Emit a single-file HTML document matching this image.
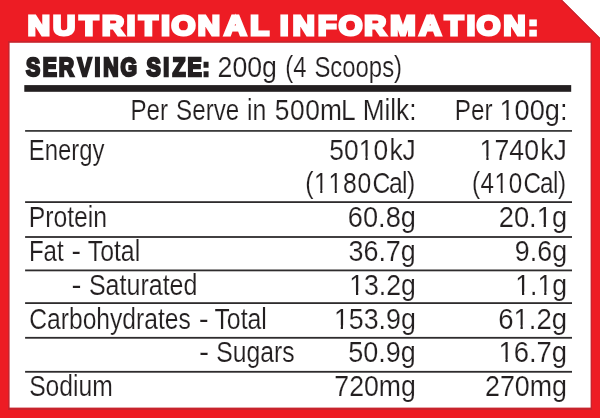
<!DOCTYPE html>
<html lang="en"><head><meta charset="utf-8"><title>Nutritional Information</title><style>
html,body{margin:0;padding:0;background:#fff;}
svg{display:block;will-change:transform;}
text{font-family:"Liberation Sans",sans-serif;}
</style></head><body>
<svg width="600" height="418" viewBox="0 0 600 418" role="img" aria-label="Nutritional information table">
<rect x="0" y="0" width="600" height="418" fill="#ED1C24"/>
<polygon points="562,0 600,0 600,38" fill="#FFFFFF"/>
<line x1="561.3" y1="0" x2="600" y2="38.7" stroke="#C8232D" stroke-width="1.2"/>
<rect x="8.0" y="41.0" width="584.0" height="369.0" fill="#C8232D"/>
<rect x="9.6" y="42.8" width="581.0" height="364.8" fill="#FFFFFF"/>
<rect x="24.3" y="85.1" width="546.9" height="6.7" fill="#231F20"/>
<rect x="25.1" y="130.00" width="546.9" height="1.8" fill="#3C3C3C"/>
<rect x="25.1" y="201.20" width="546.9" height="1.8" fill="#2E2C2D"/>
<rect x="25.1" y="236.10" width="546.9" height="1.8" fill="#2E2C2D"/>
<rect x="25.1" y="269.50" width="546.9" height="1.8" fill="#2E2C2D"/>
<rect x="25.1" y="302.20" width="546.9" height="1.8" fill="#2E2C2D"/>
<rect x="25.1" y="336.90" width="546.9" height="1.8" fill="#2E2C2D"/>
<rect x="25.1" y="370.90" width="546.9" height="1.8" fill="#2E2C2D"/>
<text transform="translate(27.69 34.60) scale(1.0895 1)" x="0.00 23.27 47.53 68.14 90.88 102.15 122.55 132.02 156.04 180.37 204.30" font-weight="700" font-size="28.20" fill="#FFFFFF" stroke="#FFFFFF" stroke-width="3.0" stroke-linejoin="miter">NUTRITIONAL</text>
<text transform="translate(280.00 34.60) scale(1.0776 1)" x="0.00 11.89 35.29 54.43 78.23 102.21 129.28 152.96 173.30 182.49 207.46 230.13" font-weight="700" font-size="28.20" fill="#FFFFFF" stroke="#FFFFFF" stroke-width="3.0" stroke-linejoin="miter">INFORMATION:</text>
<text transform="translate(26.10 75.60) scale(0.8391 1)" x="0.00 19.75 39.00 61.12 81.54 92.07 112.59" font-weight="700" font-size="25.29" fill="#231F20" stroke="#231F20" stroke-width="2.4" stroke-linejoin="miter">SERVING</text>
<text transform="translate(146.45 75.60) scale(0.8453 1)" x="-0.00 19.88 30.91 48.53 66.21" font-weight="700" font-size="25.29" fill="#231F20" stroke="#231F20" stroke-width="2.4" stroke-linejoin="miter">SIZE:</text>
<text transform="translate(217.60 76.67) scale(0.9297 1)" font-weight="400" font-size="28.71" fill="#231F20" stroke="#FFFFFF" stroke-width="0.15" stroke-linejoin="round" style="font-kerning:none">200g</text>
<text transform="translate(285.31 76.67) scale(0.8296 1)" font-weight="400" font-size="28.71" fill="#231F20" stroke="#FFFFFF" stroke-width="0.15" stroke-linejoin="round" style="font-kerning:none">(4</text>
<text transform="translate(314.38 76.67) scale(0.8333 1)" font-weight="400" font-size="28.71" fill="#231F20" stroke="#FFFFFF" stroke-width="0.15" stroke-linejoin="round">Scoops)</text>
<text transform="translate(130.51 120.48) scale(0.8411 1)" font-weight="400" font-size="28.71" fill="#231F20" stroke="#FFFFFF" stroke-width="0.15" stroke-linejoin="round">Per</text>
<text transform="translate(176.07 120.48) scale(0.8423 1)" font-weight="400" font-size="28.71" fill="#231F20" stroke="#FFFFFF" stroke-width="0.15" stroke-linejoin="round">Serve</text>
<text transform="translate(246.95 120.48) scale(0.8643 1)" font-weight="400" font-size="28.71" fill="#231F20" stroke="#FFFFFF" stroke-width="0.15" stroke-linejoin="round">in</text>
<text transform="translate(274.80 120.48) scale(0.9180 1)" x="-0.00 16.52 33.05 49.15 72.09" font-weight="400" font-size="28.71" fill="#231F20" stroke="#FFFFFF" stroke-width="0.15" stroke-linejoin="round">500mL</text>
<text transform="translate(362.74 120.48) scale(0.9106 1)" font-weight="400" font-size="28.71" fill="#231F20" stroke="#FFFFFF" stroke-width="0.15" stroke-linejoin="round">Milk:</text>
<text transform="translate(454.80 120.48) scale(0.8434 1)" font-weight="400" font-size="28.71" fill="#231F20" stroke="#FFFFFF" stroke-width="0.15" stroke-linejoin="round">Per</text>
<text transform="translate(499.48 120.48) scale(0.9462 1)" font-weight="400" font-size="28.71" fill="#231F20" stroke="#FFFFFF" stroke-width="0.15" stroke-linejoin="round" style="font-kerning:none">100g:</text>
<text transform="translate(28.72 159.77) scale(0.8338 1)" font-weight="400" font-size="28.71" fill="#231F20" stroke="#FFFFFF" stroke-width="0.15" stroke-linejoin="round">Energy</text>
<text transform="translate(329.30 159.77) scale(0.9184 1)" x="0.00 16.02 32.04 48.06 65.55 79.79" font-weight="400" font-size="28.71" fill="#231F20" stroke="#FFFFFF" stroke-width="0.15" stroke-linejoin="round">5010kJ</text>
<text transform="translate(479.56 159.77) scale(0.9281 1)" x="0.00 16.06 32.12 48.18 65.49 79.66" font-weight="400" font-size="28.71" fill="#231F20" stroke="#FFFFFF" stroke-width="0.15" stroke-linejoin="round">1740kJ</text>
<text transform="translate(305.22 193.38) scale(0.8612 1)" x="-0.00 10.20 27.00 43.79 60.58 78.15 97.28 112.34 118.10" font-weight="400" font-size="28.71" fill="#231F20" stroke="#FFFFFF" stroke-width="0.15" stroke-linejoin="round">(1180Cal)</text>
<text transform="translate(471.94 193.38) scale(0.8432 1)" x="-0.00 10.13 26.88 43.59 61.12 80.75 96.10 102.05" font-weight="400" font-size="28.71" fill="#231F20" stroke="#FFFFFF" stroke-width="0.15" stroke-linejoin="round">(410Cal)</text>
<text transform="translate(28.65 227.38) scale(0.8631 1)" font-weight="400" font-size="28.71" fill="#231F20" stroke="#FFFFFF" stroke-width="0.15" stroke-linejoin="round">Protein</text>
<text transform="translate(347.87 227.38) scale(0.9470 1)" font-weight="400" font-size="28.71" fill="#231F20" stroke="#FFFFFF" stroke-width="0.15" stroke-linejoin="round" style="font-kerning:none">60.8g</text>
<text transform="translate(498.76 227.38) scale(0.9513 1)" font-weight="400" font-size="28.71" fill="#231F20" stroke="#FFFFFF" stroke-width="0.15" stroke-linejoin="round" style="font-kerning:none">20.1g</text>
<text transform="translate(28.91 260.77) scale(0.8390 1)" font-weight="400" font-size="28.71" fill="#231F20" stroke="#FFFFFF" stroke-width="0.15" stroke-linejoin="round">Fat</text>
<text transform="translate(71.48 260.77) scale(0.9962 1)" font-weight="400" font-size="28.71" fill="#231F20" stroke="#FFFFFF" stroke-width="0.15" stroke-linejoin="round">-</text>
<text transform="translate(87.74 260.77) scale(0.8653 1)" font-weight="400" font-size="28.71" fill="#231F20" stroke="#FFFFFF" stroke-width="0.15" stroke-linejoin="round">Total</text>
<text transform="translate(348.42 260.77) scale(0.9391 1)" font-weight="400" font-size="28.71" fill="#231F20" stroke="#FFFFFF" stroke-width="0.15" stroke-linejoin="round" style="font-kerning:none">36.7g</text>
<text transform="translate(514.86 260.77) scale(0.9346 1)" font-weight="400" font-size="28.71" fill="#231F20" stroke="#FFFFFF" stroke-width="0.15" stroke-linejoin="round" style="font-kerning:none">9.6g</text>
<text transform="translate(71.43 295.07) scale(1.0389 1)" font-weight="400" font-size="28.71" fill="#231F20" stroke="#FFFFFF" stroke-width="0.15" stroke-linejoin="round">-</text>
<text transform="translate(88.93 295.07) scale(0.8719 1)" font-weight="400" font-size="28.71" fill="#231F20" stroke="#FFFFFF" stroke-width="0.15" stroke-linejoin="round">Saturated</text>
<text transform="translate(349.23 295.07) scale(0.9275 1)" font-weight="400" font-size="28.71" fill="#231F20" stroke="#FFFFFF" stroke-width="0.15" stroke-linejoin="round" style="font-kerning:none">13.2g</text>
<text transform="translate(515.23 295.07) scale(0.9277 1)" font-weight="400" font-size="28.71" fill="#231F20" stroke="#FFFFFF" stroke-width="0.15" stroke-linejoin="round" style="font-kerning:none">1.1g</text>
<text transform="translate(29.30 328.77) scale(0.8577 1)" font-weight="400" font-size="28.71" fill="#231F20" stroke="#FFFFFF" stroke-width="0.15" stroke-linejoin="round">Carbohydrates</text>
<text transform="translate(198.73 328.77) scale(1.0389 1)" font-weight="400" font-size="28.71" fill="#231F20" stroke="#FFFFFF" stroke-width="0.15" stroke-linejoin="round">-</text>
<text transform="translate(214.44 328.77) scale(0.8653 1)" font-weight="400" font-size="28.71" fill="#231F20" stroke="#FFFFFF" stroke-width="0.15" stroke-linejoin="round">Total</text>
<text transform="translate(333.92 328.77) scale(0.9334 1)" font-weight="400" font-size="28.71" fill="#231F20" stroke="#FFFFFF" stroke-width="0.15" stroke-linejoin="round" style="font-kerning:none">153.9g</text>
<text transform="translate(498.15 328.77) scale(0.9601 1)" font-weight="400" font-size="28.71" fill="#231F20" stroke="#FFFFFF" stroke-width="0.15" stroke-linejoin="round" style="font-kerning:none">61.2g</text>
<text transform="translate(199.01 362.47) scale(1.0531 1)" font-weight="400" font-size="28.71" fill="#231F20" stroke="#FFFFFF" stroke-width="0.15" stroke-linejoin="round">-</text>
<text transform="translate(216.25 362.47) scale(0.8604 1)" font-weight="400" font-size="28.71" fill="#231F20" stroke="#FFFFFF" stroke-width="0.15" stroke-linejoin="round">Sugars</text>
<text transform="translate(348.35 362.47) scale(0.9401 1)" font-weight="400" font-size="28.71" fill="#231F20" stroke="#FFFFFF" stroke-width="0.15" stroke-linejoin="round" style="font-kerning:none">50.9g</text>
<text transform="translate(498.46 362.47) scale(0.9557 1)" font-weight="400" font-size="28.71" fill="#231F20" stroke="#FFFFFF" stroke-width="0.15" stroke-linejoin="round" style="font-kerning:none">16.7g</text>
<text transform="translate(29.15 396.47) scale(0.8596 1)" font-weight="400" font-size="28.71" fill="#231F20" stroke="#FFFFFF" stroke-width="0.15" stroke-linejoin="round">Sodium</text>
<text transform="translate(334.30 396.47) scale(0.9293 1)" font-weight="400" font-size="28.71" fill="#231F20" stroke="#FFFFFF" stroke-width="0.15" stroke-linejoin="round" style="font-kerning:none">720mg</text>
<text transform="translate(484.99 396.47) scale(0.9352 1)" font-weight="400" font-size="28.71" fill="#231F20" stroke="#FFFFFF" stroke-width="0.15" stroke-linejoin="round" style="font-kerning:none">270mg</text>
<g transform="translate(499.48 120.48) scale(0.9462 1)" fill="#FFFFFF"><rect x="0.93" y="-3.44" width="6.37" height="4.64"/><rect x="9.68" y="-3.44" width="6.14" height="4.64"/></g>
<g transform="translate(329.30 159.77) scale(0.9184 1)" fill="#FFFFFF"><rect x="32.97" y="-3.44" width="6.37" height="4.64"/><rect x="41.72" y="-3.44" width="6.14" height="4.64"/></g>
<g transform="translate(479.56 159.77) scale(0.9281 1)" fill="#FFFFFF"><rect x="0.93" y="-3.44" width="6.37" height="4.64"/><rect x="9.68" y="-3.44" width="6.14" height="4.64"/></g>
<g transform="translate(305.22 193.38) scale(0.8612 1)" fill="#FFFFFF"><rect x="11.13" y="-3.44" width="6.37" height="4.64"/><rect x="19.88" y="-3.44" width="6.14" height="4.64"/><rect x="27.93" y="-3.44" width="6.37" height="4.64"/><rect x="36.68" y="-3.44" width="6.14" height="4.64"/></g>
<g transform="translate(471.94 193.38) scale(0.8432 1)" fill="#FFFFFF"><rect x="27.81" y="-3.44" width="6.37" height="4.64"/><rect x="36.56" y="-3.44" width="6.14" height="4.64"/></g>
<g transform="translate(498.76 227.38) scale(0.9513 1)" fill="#FFFFFF"><rect x="40.83" y="-3.44" width="6.37" height="4.64"/><rect x="49.59" y="-3.44" width="6.14" height="4.64"/></g>
<g transform="translate(349.23 295.07) scale(0.9275 1)" fill="#FFFFFF"><rect x="0.93" y="-3.44" width="6.37" height="4.64"/><rect x="9.68" y="-3.44" width="6.14" height="4.64"/></g>
<g transform="translate(515.23 295.07) scale(0.9277 1)" fill="#FFFFFF"><rect x="0.93" y="-3.44" width="6.37" height="4.64"/><rect x="9.68" y="-3.44" width="6.14" height="4.64"/><rect x="24.87" y="-3.44" width="6.37" height="4.64"/><rect x="33.62" y="-3.44" width="6.14" height="4.64"/></g>
<g transform="translate(333.92 328.77) scale(0.9334 1)" fill="#FFFFFF"><rect x="0.93" y="-3.44" width="6.37" height="4.64"/><rect x="9.68" y="-3.44" width="6.14" height="4.64"/></g>
<g transform="translate(498.15 328.77) scale(0.9601 1)" fill="#FFFFFF"><rect x="16.89" y="-3.44" width="6.37" height="4.64"/><rect x="25.65" y="-3.44" width="6.14" height="4.64"/></g>
<g transform="translate(498.46 362.47) scale(0.9557 1)" fill="#FFFFFF"><rect x="0.93" y="-3.44" width="6.37" height="4.64"/><rect x="9.68" y="-3.44" width="6.14" height="4.64"/></g>
</svg>
</body></html>
